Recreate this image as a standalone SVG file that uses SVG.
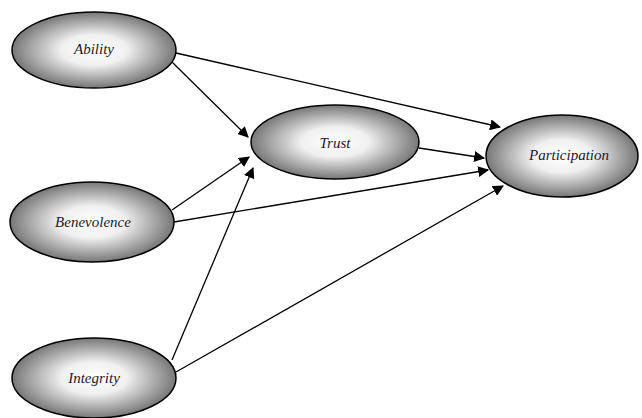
<svg xmlns="http://www.w3.org/2000/svg" width="642" height="418" viewBox="0 0 642 418">
<defs>
<radialGradient id="g" cx="50%" cy="50%" r="50%">
<stop offset="0" stop-color="#ffffff"/>
<stop offset="0.4" stop-color="#f0f0f0"/>
<stop offset="1" stop-color="#777777"/>
</radialGradient>
<marker id="ah" viewBox="0 0 10 10" refX="9" refY="5" markerWidth="11" markerHeight="11" markerUnits="userSpaceOnUse" orient="auto">
<path d="M0,0 L10,5 L0,10 z" fill="#000"/>
</marker>
<style>
ellipse{fill:url(#g);stroke:#000;stroke-width:1.5}
text{font-family:"Liberation Serif","Times New Roman",serif;font-style:italic;font-size:15px;fill:#1a1a2a;text-anchor:middle;dominant-baseline:central}
.c line{stroke:#000;stroke-width:1.3;marker-end:url(#ah)}
</style>
</defs>
<rect width="642" height="418" fill="#fff"/>
<g class="c" id="connectors">
<line x1="176" y1="53" x2="500" y2="127"/>
<line x1="172" y1="62" x2="248" y2="137"/>
<line x1="419" y1="148" x2="484" y2="158"/>
<line x1="172" y1="210" x2="249" y2="157"/>
<line x1="174" y1="222" x2="488" y2="170"/>
<line x1="172" y1="360" x2="253" y2="168"/>
<line x1="176" y1="372" x2="503" y2="186"/>
</g>
<g id="ability"><ellipse cx="94" cy="50" rx="82" ry="38"/><text x="94" y="49">Ability</text></g>
<g id="trust"><ellipse cx="335" cy="142" rx="84" ry="37"/><text x="335" y="143">Trust</text></g>
<g id="participation"><ellipse cx="562" cy="156" rx="76" ry="41"/><text x="569" y="155">Participation</text></g>
<g id="benevolence"><ellipse cx="92" cy="222" rx="82" ry="40"/><text x="93" y="222">Benevolence</text></g>
<g id="integrity"><ellipse cx="94" cy="378" rx="82" ry="40"/><text x="94" y="378">Integrity</text></g>
</svg>
